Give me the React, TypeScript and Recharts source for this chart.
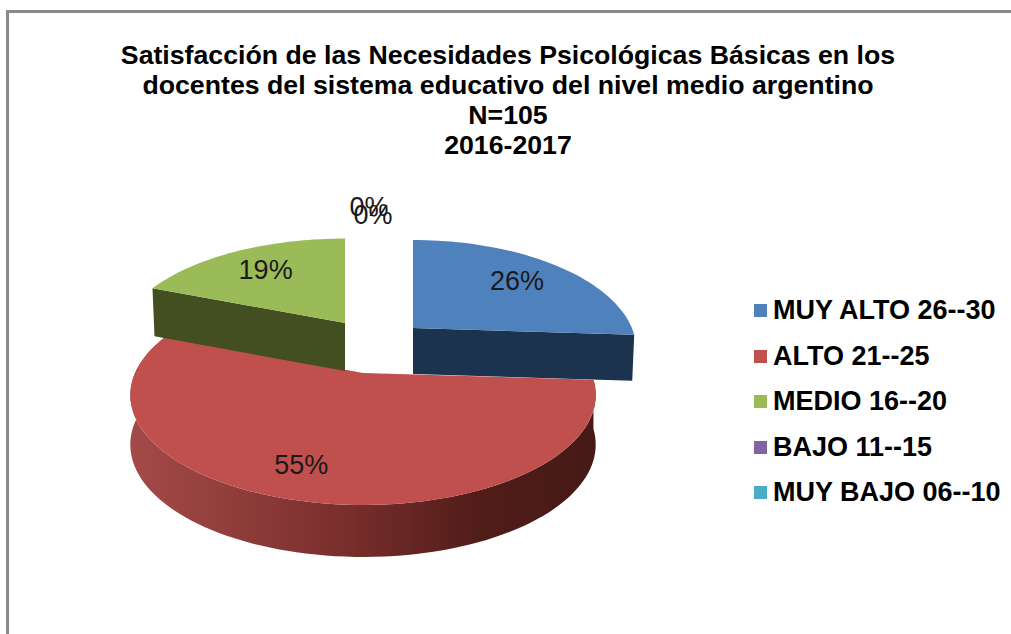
import { Cell, Legend, Pie, PieChart } from "recharts";

const categories = ["MUY ALTO 26--30", "ALTO 21--25", "MEDIO 16--20", "BAJO 11--15", "MUY BAJO 06--10"];
const percents = [26, 55, 19, 0, 0];
const colors = ["#4f81bd", "#c0504d", "#9bbb59", "#8064a2", "#4bacc6"];
const titleLines = [
  "Satisfacción de las Necesidades Psicológicas Básicas en los",
  "docentes del sistema educativo del nivel medio argentino",
  "N=105",
  "2016-2017",
];

const data = categories.map((name, i) => ({ name, value: percents[i] }));

// the tilted 3D look: the library gives the angles, this maps them on the floor plane
const TILT = 0.463;
const PERSPECTIVE = 0.2;
const FONT = "'Liberation Sans', Arial, sans-serif";

const styleFor: Record<string, { dx: number; dy: number; sx: number; sy: number; depth: number; wall: string }> = {
  "MUY ALTO 26--30": { dx: 50, dy: -45, sx: 0.96, sy: 1, depth: 46, wall: "#1c334f" },
  "ALTO 21--25": { dx: 0, dy: 0, sx: 1, sy: 1, depth: 52, wall: "url(#redWall)" },
  "MEDIO 16--20": { dx: -18, dy: -50, sx: 0.975, sy: 0.96, depth: 48, wall: "#434f20" },
};

const labelNudge = [
  { r: 0.7, dx: 2, dy: -1 },
  { r: 0.75, dx: -18, dy: 1 },
  { r: 0.7, dx: -1, dy: 2 },
  { r: 0, dx: 6, dy: -166 },
  { r: 0, dx: 10, dy: -158 },
];

function project(cx: number, cy: number, radius: number, angle: number, sx: number, sy = 1, r = 1) {
  const rad = (angle * Math.PI) / 180;
  const u = Math.cos(rad) * r;
  const v = -Math.sin(rad) * r;
  const w = 1 - PERSPECTIVE * v;
  return { x: cx + (radius * sx * u) / w, y: cy + (radius * TILT * sy * v) / w, v };
}

function Slice3D(props: any) {
  const { cx, cy, outerRadius, startAngle, endAngle, fill, name } = props;
  const s = styleFor[name];
  if (!s || startAngle === endAngle) return null;
  const ax = cx + s.dx;
  const ay = cy + s.dy;
  const steps = Math.ceil(Math.abs(endAngle - startAngle) / 2);
  const rim = [];
  for (let i = 0; i <= steps; i++) {
    const a = startAngle + ((endAngle - startAngle) * i) / steps;
    rim.push(project(ax, ay, outerRadius, a, s.sx, s.sy));
  }
  const top = `M${ax},${ay} ` + rim.map((p) => `L${p.x},${p.y}`).join(" ") + " Z";
  const drop = (v: number) => s.depth - (name === "ALTO 21--25" ? 3 * (1 - v) : 0);
  let wall;
  if (name === "ALTO 21--25") {
    const bottom = [...rim].reverse().map((p) => `L${p.x},${p.y + drop(p.v)}`).join(" ");
    wall = "M" + rim.map((p) => `${p.x},${p.y}`).join(" L") + " " + bottom + " Z";
  } else {
    // the cut face that looks at the viewer
    const end = name === "MUY ALTO 26--30" ? rim[rim.length - 1] : rim[0];
    wall = `M${ax},${ay} L${end.x},${end.y} L${end.x - 2 * Math.sign(s.dx)},${end.y + s.depth} L${ax},${ay + s.depth} Z`;
  }
  return (
    <g>
      <defs>
        <linearGradient id="redWall" gradientUnits="userSpaceOnUse" x1={cx - outerRadius} x2={cx + outerRadius} y1={0} y2={0}>
          <stop offset="0" stopColor="#a34a48" />
          <stop offset="0.45" stopColor="#7a2f2d" />
          <stop offset="0.75" stopColor="#521d19" />
          <stop offset="1" stopColor="#451a16" />
        </linearGradient>
      </defs>
      <path d={wall} fill={s.wall} />
      <path d={top} fill={fill} />
    </g>
  );
}

function renderLabel(props: any) {
  const { cx, cy, outerRadius, midAngle, index, value } = props;
  const n = labelNudge[index];
  const s = styleFor[categories[index]];
  const p = project(cx + (s ? s.dx : 0), cy + (s ? s.dy : 0), outerRadius, midAngle, s ? s.sx : 1, 1, n.r);
  return (
    <text
      x={p.x + n.dx}
      y={p.y + n.dy}
      textAnchor="middle"
      dominantBaseline="central"
      fontFamily={FONT}
      fontSize={27}
      fill="#1a1a1a"
    >
      {value}%
    </text>
  );
}

function renderLegend(props: any) {
  return (
    <div>
      {(props.payload || []).map((item: any) => (
        <div key={item.value} style={{ height: 45.5, display: "flex", alignItems: "center" }}>
          <span style={{ width: 13, height: 13, background: item.color, marginRight: 6 }} />
          <span style={{ fontFamily: FONT, fontWeight: 700, fontSize: 27, color: "#000", whiteSpace: "nowrap" }}>
            {item.value}
          </span>
        </div>
      ))}
    </div>
  );
}

export default function App() {
  return (
    <div style={{ position: "absolute", left: 0, top: 0, width: 1011, height: 634, overflow: "hidden", background: "#fff" }}>
      <div style={{ position: "absolute", left: 6, top: 10, width: 1005, height: 624, borderTop: "3px solid #8a8a8a", borderLeft: "3px solid #8a8a8a", boxSizing: "border-box" }} />
      <div style={{ position: "absolute", left: 0, top: 0 }}>
        <PieChart width={1011} height={634} margin={{ top: 0, right: 0, bottom: 0, left: 0 }}>
          <text textAnchor="middle" fontFamily={FONT} fontWeight={700} fontSize={26.7} fill="#000">
            {titleLines.map((line, i) => (
              <tspan key={line} x={508} y={64 + i * 30}>
                {line}
              </tspan>
            ))}
          </text>
          <Pie
            data={data}
            dataKey="value"
            nameKey="name"
            cx={363}
            cy={373}
            outerRadius={228}
            startAngle={90}
            endAngle={-270}
            stroke="none"
            isAnimationActive={false}
            shape={Slice3D}
            label={renderLabel}
            labelLine={false}
          >
            {categories.map((name, i) => (
              <Cell key={name} fill={colors[i]} />
            ))}
          </Pie>
          <Legend
            layout="vertical"
            content={renderLegend}
            itemSorter={null}
            wrapperStyle={{ left: 754, top: 288, width: 257, bottom: "auto", right: "auto" }}
          />
        </PieChart>
      </div>
    </div>
  );
}
